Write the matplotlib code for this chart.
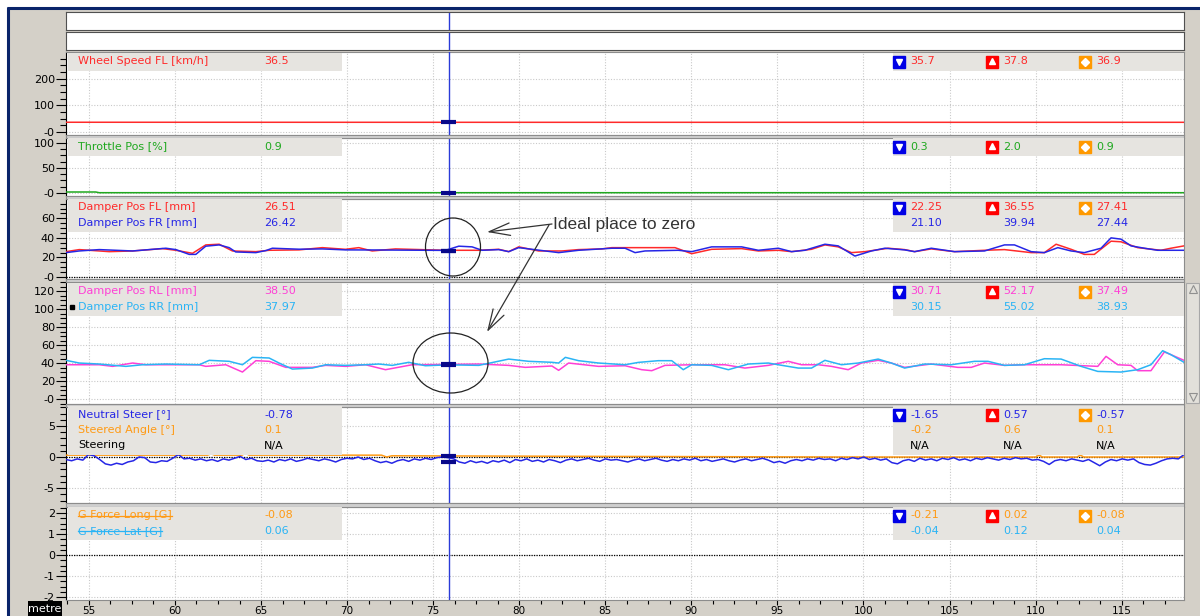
import numpy as np
import matplotlib
matplotlib.use('Agg')
import matplotlib.pyplot as plt
from matplotlib.patches import Rectangle, Ellipse
from matplotlib.ticker import MultipleLocator, FuncFormatter

plt.rcParams['font.family'] = ['DejaVu Sans']

# ---------------- data ----------------
X_MIN, X_MAX = 53.67, 118.62      # distance window [metre]
CURSOR = 75.9                     # cursor position [metre]

speed_x = [53.67, 65.0, 80.0, 100.0, 118.62]
speed_y = [36.7, 36.6, 36.5, 36.5, 36.5]

throttle_x = [53.67, 55.4, 55.6, 118.62]
throttle_y = [2.0, 2.0, 0.6, 0.6]

fl_x = [53.67, 54.44, 56.18, 57.54, 59.28, 60.05, 61.02, 61.79, 62.57, 63.34, 64.70, 65.47, 67.21, 68.56,
        69.91, 70.68, 71.46, 72.81, 75.71, 77.65, 78.81, 79.39, 79.97, 81.13, 82.48, 83.45, 84.80, 85.38,
        86.15, 89.05, 90.02, 91.18, 92.92, 93.89, 95.05, 95.82, 96.98, 97.76, 98.53, 99.30, 100.08, 101.43,
        102.39, 102.97, 103.94, 105.29, 107.03, 108.19, 109.74, 110.51, 111.19, 112.06, 112.83, 113.41,
        114.38, 114.96, 115.93, 117.28, 117.86, 118.62]
fl_y = [25.9, 28.0, 25.9, 26.6, 29.0, 27.3, 24.2, 32.8, 33.5, 26.6, 25.9, 27.3, 27.7, 30.0,
        28.3, 30.0, 26.6, 28.7, 27.3, 27.3, 28.3, 25.9, 30.8, 26.6, 26.6, 28.0, 28.7, 30.0,
        30.0, 30.0, 23.8, 28.3, 29.0, 26.6, 27.3, 25.9, 28.3, 32.8, 30.8, 24.9, 25.9, 29.4,
        28.0, 25.9, 28.7, 25.9, 27.3, 28.0, 24.9, 24.9, 33.5, 28.3, 23.1, 23.1,
        36.6, 36.0, 30.0, 27.3, 29.4, 31.8]

fr_x = [53.67, 54.44, 55.60, 57.54, 59.47, 60.05, 60.83, 61.21, 61.79, 62.57, 63.15, 63.53, 64.70, 65.28,
        65.66, 67.21, 68.56, 69.91, 71.84, 73.78, 75.71, 76.49, 77.26, 77.84, 78.81, 79.39, 79.97, 80.74,
        82.29, 83.45, 85.38, 86.15, 86.73, 87.31, 89.24, 90.02, 91.18, 92.92, 93.89, 95.05, 95.82, 96.59,
        97.76, 98.53, 99.50, 100.46, 101.24, 102.39, 102.97, 103.94, 105.29, 107.03, 108.19, 108.77,
        109.74, 110.51, 111.29, 112.06, 112.83, 113.80, 114.38, 114.96, 115.54, 116.32, 117.09, 118.62]
fr_y = [24.9, 26.6, 28.0, 26.6, 29.4, 28.0, 23.1, 23.1, 31.5, 32.8, 30.0, 25.6, 24.9, 27.0,
        29.4, 28.4, 28.7, 27.7, 27.6, 27.4, 27.2, 31.5, 30.8, 27.3, 28.0, 25.9, 30.0, 28.3,
        24.9, 27.3, 29.4, 29.4, 24.9, 26.6, 27.3, 25.9, 30.8, 30.8, 27.3, 29.4, 25.9, 27.3,
        33.5, 31.8, 21.4, 26.6, 29.4, 27.7, 25.9, 29.4, 25.9, 26.6, 32.8, 32.8,
        25.9, 24.9, 30.0, 26.6, 24.9, 29.4, 40.0, 38.7, 31.8, 29.4, 27.3, 27.3]

rl_x = [53.67, 55.60, 56.38, 57.54, 58.31, 61.41, 61.79, 62.95, 63.92, 64.70, 65.47, 66.44, 67.98, 68.76,
        69.91, 71.07, 72.23, 73.78, 75.91, 77.65, 79.39, 80.35, 81.90, 82.29, 82.87, 84.61,
        86.15, 87.12, 87.70, 88.47, 90.02, 91.95, 93.11, 94.47, 95.63, 96.40, 97.37, 98.14, 99.11,
        99.88, 100.85, 101.62, 102.39, 103.94, 105.48, 106.26, 107.03, 108.19, 109.35, 111.48,
        113.61, 114.09, 114.77, 115.54, 115.93, 116.70, 117.48, 117.86, 118.62]
rl_y = [38.1, 38.1, 36.3, 40.0, 38.1, 38.1, 36.3, 38.1, 30.0, 42.6, 41.9, 35.2, 35.2, 37.4,
        36.3, 38.1, 32.6, 38.1, 38.5, 38.9, 37.4, 35.2, 36.7, 31.9, 40.0, 36.3,
        37.0, 32.6, 31.5, 37.4, 38.1, 38.1, 34.4, 37.4, 41.9, 38.1, 38.1, 36.3, 32.6,
        40.0, 43.0, 40.0, 35.2, 38.9, 35.2, 35.2, 40.0, 37.4, 38.1, 38.1,
        36.3, 47.4, 38.1, 37.4, 31.5, 31.5, 52.3, 49.3, 43.0]

rr_x = [53.67, 54.44, 55.60, 57.15, 58.12, 59.47, 61.41, 61.99, 63.15, 63.92, 64.50, 65.47, 66.05, 66.82,
        67.98, 68.76, 69.91, 71.07, 71.84, 72.62, 73.58, 74.55, 75.91, 77.65, 79.39, 80.55, 81.90,
        82.29, 82.68, 83.45, 84.61, 86.15, 86.92, 88.08, 88.86, 89.53, 90.02, 91.18, 92.15, 93.31,
        94.47, 95.05, 96.21, 96.98, 97.76, 98.72, 99.69, 100.85, 101.62, 102.39, 103.55, 105.10,
        106.45, 107.23, 108.19, 109.35, 110.51, 111.48, 112.64, 113.61, 114.96, 115.93, 116.70,
        117.38, 117.86, 118.62]
rr_y = [43.0, 40.0, 38.9, 36.3, 38.1, 38.9, 38.1, 43.0, 41.9, 38.1, 46.3, 45.6, 40.0, 33.3,
        34.4, 38.1, 37.4, 38.1, 38.9, 37.4, 40.8, 37.0, 38.0, 37.4, 44.4, 41.9, 40.8,
        40.0, 46.3, 42.6, 40.0, 38.1, 40.7, 42.6, 42.6, 32.6, 38.1, 37.4, 32.6, 38.9,
        40.0, 38.1, 34.4, 34.4, 43.0, 38.1, 40.0, 44.4, 40.0, 34.4, 38.9, 38.1,
        41.9, 41.9, 37.4, 38.1, 44.8, 44.4, 36.3, 30.7, 30.0, 32.6, 38.1,
        53.7, 49.3, 40.8]

# neutral steer, sampled evenly over the window
steer_y = [-0.4, -0.6, -0.3, -0.5, 0.4, 0.2, -0.4, -1.1, -1.3, -1.0,
           -1.2, -0.8, -0.6, 0.0, -0.1, -0.8, -0.9, -0.6, -0.7, -0.2,
           0.4, -0.3, -0.2, -0.5, -0.3, -0.6, -0.4, -0.7, -0.3, -0.5,
           -0.2, 0.1, -0.4, -0.2, -0.6, -0.7, -0.5, -0.8, -0.4, -0.6,
           -0.3, -0.7, -0.5, -0.2, -0.4, -0.6, -0.3, -0.5, -0.8, -0.4,
           -0.2, -0.3, 0.0, -0.4, -0.2, -0.6, -0.9, -0.7, -1.0, -0.6,
           -0.4, -0.7, -0.3, -0.5, -0.2, -0.4, -0.1, 0.0, -0.1, -0.3,
           -0.8, -1.0, -0.6, -0.9, -0.7, -1.0, -0.6, -0.8, -0.5, -0.9,
           -0.4, -0.6, -0.3, -0.7, -0.5, -0.8, -0.4, -0.6, -0.9, -0.5,
           -0.3, -0.6, -0.4, -0.2, -0.5, -0.7, -0.3, -0.5, -0.4, -0.6,
           -0.8, -0.5, -0.3, -0.6, -0.4, -0.2, -0.5, -0.7, -0.4, -0.6,
           -0.3, -0.5, -0.2, -0.6, -0.4, -0.7, -0.5, -0.3, -0.6, -0.8,
           -0.5, -0.3, -0.6, -0.4, -0.2, -0.5, -0.9, -0.7, -1.0, -0.6,
           -0.4, -0.6, -0.3, -0.5, -0.2, -0.4, -0.3, -0.6, -0.2, -0.4,
           -0.1, -0.3, 0.0, -0.4, -0.2, -0.5, -0.3, -0.9, -1.1, -0.6,
           -0.4, -0.7, -0.2, -0.5, -0.3, -0.6, -0.2, -0.4, -0.1, -0.5,
           -0.3, -0.6, -0.2, -0.4, -0.1, -0.3, -0.5, -0.2, -0.4, -0.1,
           -0.3, -0.2, -0.5, -0.4, -0.7, -1.2, -0.6, -0.4, -0.6, -0.3,
           -0.5, -0.7, -0.4, -0.9, -1.4, -0.8, -0.4, -0.6, -0.3, -0.5,
           -0.3, -0.9, -1.2, -1.3, -1.0, -0.6, -0.3, -0.2, -0.3, 0.4]
steer_x = np.linspace(X_MIN, X_MAX, len(steer_y))

steered_x = [53.67, 61.9, 62.1, 62.3, 63.9, 64.1, 64.3, 72.0, 72.3, 72.6, 85.0, 99.0, 110.0, 110.2,
             110.4, 112.4, 112.6, 112.8, 118.62]
steered_y = [0.3, 0.3, 0.5, 0.3, 0.3, 0.6, 0.3, 0.3, 0.0, 0.2, 0.1, 0.0, 0.0, 0.3,
             0.0, 0.0, 0.3, 0.0, 0.0]

# header readouts: name, value at cursor, min, max, average
ch_panel = [0, 1, 2, 2, 3, 3, 4, 4, 4, 5, 5]
ch_name = ['Wheel Speed FL [km/h]', 'Throttle Pos [%]', 'Damper Pos FL [mm]', 'Damper Pos FR [mm]',
           'Damper Pos RL [mm]', 'Damper Pos RR [mm]', 'Neutral Steer [°]', 'Steered Angle [°]',
           'Steering', 'G Force Long [G]', 'G Force Lat [G]']
ch_now = ['36.5', '0.9', '26.51', '26.42', '38.50', '37.97', '-0.78', '0.1', 'N/A', '-0.08', '0.06']
ch_min = ['35.7', '0.3', '22.25', '21.10', '30.71', '30.15', '-1.65', '-0.2', 'N/A', '-0.21', '-0.04']
ch_max = ['37.8', '2.0', '36.55', '39.94', '52.17', '55.02', '0.57', '0.6', 'N/A', '0.02', '0.12']
ch_avg = ['36.9', '0.9', '27.41', '27.44', '37.49', '38.93', '-0.57', '0.1', 'N/A', '-0.08', '0.04']
ch_hidden = [False] * 9 + [True, True]

x_ticks = [55, 60, 65, 70, 75, 80, 85, 90, 95, 100, 105, 110, 115]

# ---------------- styling ----------------
RED, GREEN, BLUE = '#FF2A2A', '#1FA81F', '#2626E6'
MAGENTA, CYAN, ORANGE = '#FF3FD6', '#2AB4F5', '#FF9A14'
ch_color = [RED, GREEN, RED, BLUE, MAGENTA, CYAN, BLUE, ORANGE, 'black', ORANGE, CYAN]
WIN_GRAY = '#D4D0C8'
BAND = '#E6E4E0'
W, H = 1200, 616

fig = plt.figure(figsize=(W / 100, H / 100), dpi=100)
fig.patch.set_facecolor('white')


def rect(x0, y0, x1, y1):
    return [x0 / W, 1 - y1 / H, (x1 - x0) / W, (y1 - y0) / H]


def pix_axes(z):
    a = fig.add_axes([0, 0, 1, 1], zorder=z)
    a.set_xlim(0, W)
    a.set_ylim(H, 0)
    a.axis('off')
    a.patch.set_alpha(0)
    return a


bg = pix_axes(-5)
bg.add_patch(Rectangle((9, 9), W, H, fc=WIN_GRAY, ec='none'))
bg.plot([7, W], [8, 8], color='#0A246A', lw=2.2, solid_capstyle='butt')
bg.plot([8, 8], [7, H], color='#0A246A', lw=2.2, solid_capstyle='butt')

PX0, PX1 = 66, 1184
# (top, bottom, ylim, major, minor, "-0" label, zero line)
panels = [
    (52, 135, (-11, 299.6), 100, 25, True, False),
    (138, 196, (-6, 110), 50, 12.5, True, False),
    (199, 279, (-2.1, 79.8), 20, 5, True, True),
    (282, 404, (-5.5, 130), 20, 5, True, False),
    (407, 503, (-7.4, 8.05), 5, 1, False, True),
    (507, 600, (-2.14, 2.29), 1, 0.25, False, True),
]

# top empty strips
for t, b in [(12, 30), (32, 50)]:
    a = fig.add_axes(rect(PX0, t, PX1, b))
    a.set_xlim(X_MIN, X_MAX)
    a.set_xticks([])
    a.set_yticks([])
    for s in a.spines.values():
        s.set_color('#505050')
    a.axvline(CURSOR, color='#2A3BD8', lw=1)

axes = []
for i, (t, b, yl, maj, mnr, negzero, zline) in enumerate(panels):
    ax = fig.add_axes(rect(PX0, t, PX1, b))
    ax.set_xlim(X_MIN, X_MAX)
    ax.set_ylim(*yl)
    ax.yaxis.set_major_locator(MultipleLocator(maj))
    ax.yaxis.set_minor_locator(MultipleLocator(mnr))
    ax.yaxis.set_major_formatter(FuncFormatter(
        lambda v, p, nz=negzero: ('-0' if nz else '0') if abs(v) < 1e-9 else f'{v:g}'))
    ax.xaxis.set_major_locator(MultipleLocator(5))
    ax.xaxis.set_minor_locator(MultipleLocator(1.25))
    ax.tick_params(axis='y', which='major', length=7, width=0.8, labelsize=8, pad=1, direction='out')
    ax.tick_params(axis='y', which='minor', length=4, width=0.8, direction='out')
    ax.grid(True, which='major', color='#C9C9C9', ls=(0, (1, 1.5)), lw=0.8)
    ax.set_axisbelow(True)
    for s in ['top', 'bottom', 'right']:
        ax.spines[s].set_color('#8C8C8C')
    ax.spines['left'].set_color('black')
    if zline:
        ax.axhline(0, color='black', ls=(0, (1, 1)), lw=0.9)
    if i < len(panels) - 1:
        ax.tick_params(axis='x', which='both', bottom=False, labelbottom=False)
    else:
        ax.set_xticks(x_ticks)
        ax.tick_params(axis='x', which='major', length=3.5, width=0.8, labelsize=7.5, pad=0.5)
        ax.tick_params(axis='x', which='minor', length=3, width=0.8)
    ax.axvline(CURSOR, color='#2A3BD8', lw=1, zorder=4)
    axes.append(ax)

LW = 1.1
series = [
    (0, speed_x, speed_y, RED, 36.5),
    (1, throttle_x, throttle_y, GREEN, 0.9),
    (2, fl_x, fl_y, RED, 26.51),
    (2, fr_x, fr_y, BLUE, 26.42),
    (3, rl_x, rl_y, MAGENTA, 38.50),
    (3, rr_x, rr_y, CYAN, 37.97),
    (4, steered_x, steered_y, ORANGE, 0.1),
    (4, steer_x, steer_y, BLUE, -0.78),
]
for p, xs, ys, c, now in series:
    axes[p].plot(xs, ys, color=c, lw=LW, zorder=3)
    axes[p].plot([CURSOR - 0.45, CURSOR + 0.45], [now, now], color='#08088A', lw=3,
                 solid_capstyle='butt', zorder=5)

# ---------------- overlay: headers, separators, notes ----------------
ov = pix_axes(10)

for k in range(len(panels) - 1):
    y0, y1 = panels[k][1], panels[k + 1][0]
    ov.add_patch(Rectangle((PX0, y0), PX1 - PX0, y1 - y0, fc='#CFCFCF', ec='#8C8C8C', lw=0.8))

band_top = [53, 138, 199, 283, 406, 507]
rows_in_panel = [ch_panel.count(p) for p in range(len(panels))]
for p in range(len(panels)):
    h = rows_in_panel[p] * 15.5 + 2
    ov.add_patch(Rectangle((68, band_top[p]), 274, h, fc=BAND, ec='none'))
    ov.add_patch(Rectangle((893, band_top[p]), PX1 - 893, h, fc=BAND, ec='none'))

strike = []
row_of = {}
for j, p in enumerate(ch_panel):
    r = row_of.get(p, 0)
    row_of[p] = r + 1
    y = band_top[p] + 8.5 + 15.5 * r
    c = ch_color[j]
    t = ov.text(78, y, ch_name[j], color=c, fontsize=8, va='center')
    if ch_hidden[j]:
        strike.append((t, c))
    ov.text(264, y, ch_now[j], color=c, fontsize=8, va='center')
    for xv, v in zip([910, 1003, 1096], [ch_min[j], ch_max[j], ch_avg[j]]):
        ov.text(xv, y, v, color=c, fontsize=8, va='center')
    if r == 0:
        ov.plot(899, y, marker='s', ms=9, color='#0000E6', mec='#0000E6')
        ov.plot(899, y + 0.5, marker='v', ms=5, color='white', mec='white')
        ov.plot(992, y, marker='s', ms=9, color='#FF0000', mec='#FF0000')
        ov.plot(992, y - 0.5, marker='^', ms=5, color='white', mec='white')
        ov.plot(1084.5, y, marker='s', ms=9, color='#FF9900', mec='#FF9900')
        ov.plot(1084.5, y, marker='D', ms=4, color='white', mec='white')
    if ch_name[j] == 'Damper Pos RR [mm]':
        ov.plot(71.5, y, marker='s', ms=3, color='black')

# annotation
ov.add_patch(Ellipse((453, 247), 55, 58, fill=False, ec='#222222', lw=0.9))
ov.add_patch(Ellipse((450.5, 363), 75, 60, fill=False, ec='#222222', lw=0.9))
ov.text(553, 224, 'Ideal place to zero', fontsize=12.5, family='Liberation Sans',
        color='#333333', va='center')
arrow = dict(arrowstyle='->,head_length=1.5,head_width=0.45', color='#333333', lw=0.9,
             shrinkA=0, shrinkB=0)
ov.annotate('', xy=(487, 232), xytext=(552, 224), arrowprops=arrow)
ov.annotate('', xy=(487, 332), xytext=(549, 225), arrowprops=arrow)

# scrollbar on the right of the rear damper panel
ov.add_patch(Rectangle((1186, 283), 13, 120, fc='#E2E0DA', ec='#A8A8A8', lw=0.8))
ov.plot(1192.5, 289, marker='^', ms=6, mfc='none', mec='#909090', mew=0.8)
ov.plot(1192.5, 397, marker='v', ms=6, mfc='none', mec='#909090', mew=0.8)

# distance unit tag
ov.add_patch(Rectangle((28, 601), 34, 15, fc='black', ec='none'))
ov.text(45, 608.5, 'metre', color='white', fontsize=8, ha='center', va='center')

# strike-through for hidden channels
fig.canvas.draw()
for t, c in strike:
    bb = t.get_window_extent()
    yc = H - (bb.y0 + bb.y1) / 2
    ov.plot([bb.x0, bb.x1], [yc, yc], color=c, lw=0.9)

fig.savefig('out.png', dpi=100)
